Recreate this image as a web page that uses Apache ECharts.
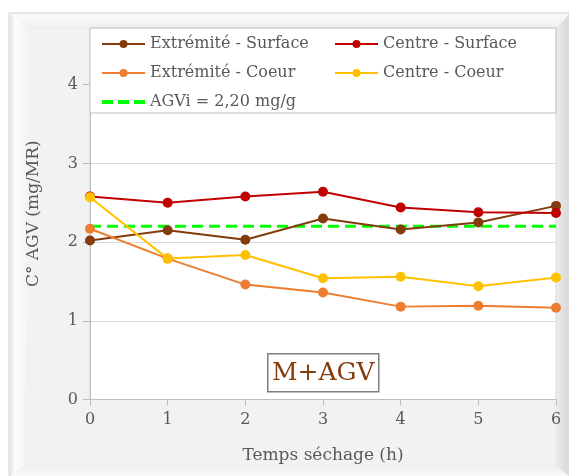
<!DOCTYPE html>
<html>
<head>
<meta charset="utf-8">
<script src="https://cdn.jsdelivr.net/npm/echarts@6/dist/echarts.min.js"></script>
<style>
  html, body { margin: 0; padding: 0; background: #ffffff; }
  #chart { width: 569px; height: 476px; }
</style>
</head>
<body>
<div id="chart"></div>
<script>
// Drying time (h)
const hours = [0, 1, 2, 3, 4, 5, 6];

// VFA content (mg/MR) per sampling position
const extremiteSurface = [2.02, 2.15, 2.03, 2.30, 2.16, 2.25, 2.46];
const centreSurface    = [2.58, 2.50, 2.58, 2.64, 2.44, 2.38, 2.37];
const extremiteCoeur   = [2.17, 1.79, 1.46, 1.36, 1.18, 1.19, 1.165];
const centreCoeur      = [2.57, 1.79, 1.835, 1.54, 1.56, 1.44, 1.55];

// Initial VFA reference level
const agviLevel = 2.20;

const seriesNames = ['Extrémité - Surface', 'Centre - Surface', 'Extrémité - Coeur', 'Centre - Coeur', 'AGVi = 2,20 mg/g'];
const seriesColors = ['#843c0c', '#c00000', '#ed7d31', '#ffc000', '#00ff00'];

const FONT = 'DejaVu Serif';
const TEXT = '#595959';

// dashed-line legend icon for the reference level
const DASH_ICON = 'path://M0,0H11V4H0Z M16,0H27V4H16Z M32,0H43V4H32Z';

function pairs(values) {
  return hours.map((h, i) => [h, values[i]]);
}

function lineSeries(name, values, color) {
  return {
    name: name,
    type: 'line',
    data: pairs(values),
    symbol: 'circle',
    symbolSize: 10,
    color: color,
    lineStyle: { color: color, width: 2 },
    itemStyle: { color: color },
    z: 3
  };
}

const chart = echarts.init(document.getElementById('chart'), null, { renderer: 'canvas' });

const W = 569, H = 476;

const legendText = { fontFamily: FONT, fontSize: 16, color: TEXT };

const option = {
  animation: false,
  backgroundColor: '#ffffff',
  textStyle: { fontFamily: FONT, color: TEXT },
  graphic: [
    // bevelled frame
    { type: 'rect', z: -10, shape: { x: 9, y: 13, width: W - 9, height: H - 13 },
      style: { fill: '#f3f2f2', stroke: '#d4d4d4', lineWidth: 1 } },
    { type: 'polygon', z: -9, shape: { points: [[10, 14], [W, 14], [W - 14, 30], [32, 30]] },
      style: { fill: new echarts.graphic.LinearGradient(0, 0, 0, 1, [
        { offset: 0, color: '#fbfbfb' }, { offset: 1, color: '#efeded' }]) } },
    { type: 'polygon', z: -9, shape: { points: [[10, 14], [32, 30], [24, H - 10], [10, H]] },
      style: { fill: new echarts.graphic.LinearGradient(0, 0, 1, 0, [
        { offset: 0, color: '#e6e6e6' }, { offset: 0.25, color: '#fdfdfd' }, { offset: 1, color: '#f1f0f0' }]) } },
    { type: 'polygon', z: -9, shape: { points: [[W, 14], [W, H], [W - 14, H - 10], [W - 14, 30]] },
      style: { fill: new echarts.graphic.LinearGradient(0, 0, 1, 0, [
        { offset: 0, color: '#eeeeee' }, { offset: 1, color: '#d8d8d8' }]) } },
    { type: 'polygon', z: -9, shape: { points: [[10, H], [24, H - 10], [W - 14, H - 10], [W, H]] },
      style: { fill: new echarts.graphic.LinearGradient(0, 0, 0, 1, [
        { offset: 0, color: '#f1f0f0' }, { offset: 1, color: '#fafafa' }]) } },
    // legend box
    { type: 'rect', z: 1, shape: { x: 90, y: 28, width: 466, height: 85 },
      style: { fill: '#ffffff', stroke: '#bfbfbf', lineWidth: 1 } },
    // sample label
    { type: 'group', z: 5, left: 267, top: 353, children: [
      { type: 'rect', shape: { x: 0, y: 0, width: 111, height: 38 },
        style: { fill: '#ffffff', stroke: '#7f7f7f', lineWidth: 1.5 } },
      { type: 'text', style: { x: 55.5, y: 20, text: 'M+AGV', fill: '#843c0c',
        font: '25px "' + FONT + '"', align: 'center', verticalAlign: 'middle' } }
    ] }
  ],
  grid: {
    left: 90, right: 13, top: 28, bottom: 76.5,
    show: true, backgroundColor: '#ffffff', borderColor: '#d9d9d9', borderWidth: 1
  },
  legend: [
    {
      data: [seriesNames[0], seriesNames[2], { name: seriesNames[4], icon: DASH_ICON }],
      orient: 'vertical', left: 101, top: 36, padding: 0,
      itemWidth: 43, itemHeight: 10, itemGap: 13,
      textStyle: legendText, z: 4
    },
    {
      data: [seriesNames[1], seriesNames[3]],
      orient: 'vertical', left: 334, top: 36, padding: 0,
      itemWidth: 43, itemHeight: 10, itemGap: 13,
      textStyle: legendText, z: 4
    }
  ],
  xAxis: {
    type: 'value', min: 0, max: 6, interval: 1,
    name: 'Temps séchage (h)', nameLocation: 'middle', nameGap: 48,
    nameTextStyle: { fontFamily: FONT, fontSize: 17, color: TEXT },
    axisLine: { lineStyle: { color: '#bfbfbf' } },
    axisTick: { show: true, length: 6, lineStyle: { color: '#bfbfbf' } },
    axisLabel: { fontFamily: FONT, fontSize: 16, color: TEXT, margin: 12 },
    splitLine: { show: false }
  },
  yAxis: {
    type: 'value', min: 0, max: 4.72, interval: 1,
    name: 'C° AGV (mg/MR)', nameLocation: 'middle', nameGap: 48, nameRotate: 90,
    nameTextStyle: { fontFamily: FONT, fontSize: 17, color: TEXT },
    axisLine: { show: true, lineStyle: { color: '#bfbfbf' } },
    axisTick: { show: true, length: 7, lineStyle: { color: '#bfbfbf' } },
    axisLabel: { fontFamily: FONT, fontSize: 16, color: TEXT, margin: 12, showMaxLabel: false },
    splitLine: { show: true, lineStyle: { color: '#d9d9d9', width: 1 } }
  },
  series: [
    lineSeries(seriesNames[0], extremiteSurface, seriesColors[0]),
    lineSeries(seriesNames[1], centreSurface, seriesColors[1]),
    lineSeries(seriesNames[2], extremiteCoeur, seriesColors[2]),
    lineSeries(seriesNames[3], centreCoeur, seriesColors[3]),
    {
      name: seriesNames[4],
      type: 'line',
      data: [[hours[0], agviLevel], [hours[hours.length - 1], agviLevel]],
      symbol: 'none',
      color: seriesColors[4],
      lineStyle: { color: seriesColors[4], width: 3, type: [11, 6] },
      z: 2
    }
  ]
};

chart.setOption(option);
</script>
</body>
</html>
